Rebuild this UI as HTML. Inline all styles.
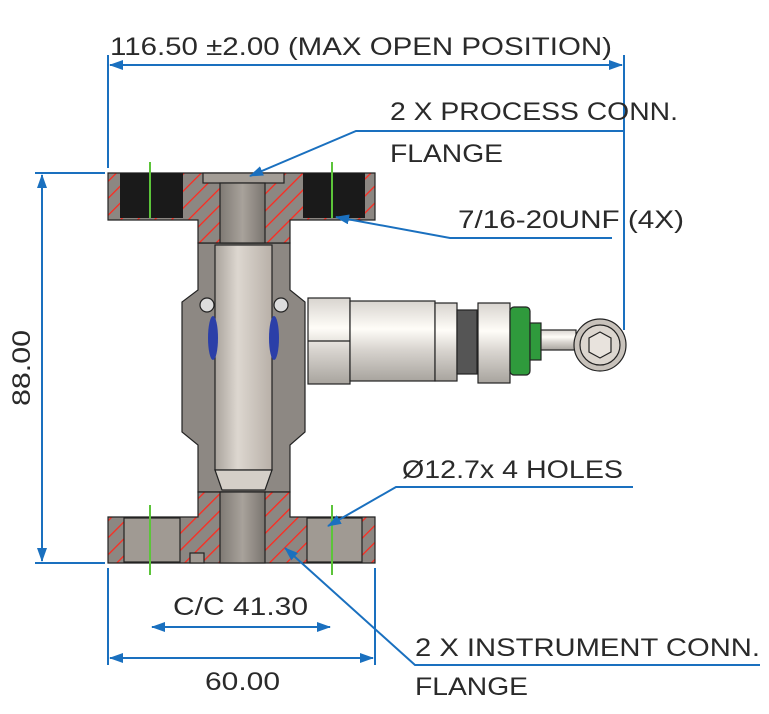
<!DOCTYPE html>
<html><head><style>
html,body{margin:0;padding:0;background:#fff;width:769px;height:714px;overflow:hidden}
text{font-family:"Liberation Sans",sans-serif;fill:#2a2a2a;font-size:25px}
</style></head><body>
<svg width="769" height="714" viewBox="0 0 769 714" xmlns="http://www.w3.org/2000/svg">
<defs>
<pattern id="h" width="12" height="12" patternUnits="userSpaceOnUse" patternTransform="rotate(45)">
<rect width="12" height="12" fill="#8c8782"/><line x1="0" y1="0" x2="0" y2="12" stroke="#ff2a1f" stroke-width="2.6"/>
</pattern>
<linearGradient id="cyl" x1="0" x2="0" y1="0" y2="1"><stop offset="0" stop-color="#d8d4cf"/><stop offset=".35" stop-color="#fffdf8"/><stop offset=".6" stop-color="#d9d5d0"/><stop offset="1" stop-color="#a8a49e"/></linearGradient>
<linearGradient id="stem" x1="0" x2="1"><stop offset="0" stop-color="#a9a39c"/><stop offset=".4" stop-color="#ddd7d0"/><stop offset="1" stop-color="#b8b0a8"/></linearGradient>
<linearGradient id="bore" x1="0" x2="1"><stop offset="0" stop-color="#7f7a74"/><stop offset=".5" stop-color="#a8a29b"/><stop offset="1" stop-color="#7a756f"/></linearGradient>
<marker id="a" markerWidth="14" markerHeight="10" refX="13" refY="5" orient="auto" markerUnits="userSpaceOnUse"><path d="M0,0 L14,5 L0,10 z" fill="#1a70bf"/></marker>
<marker id="s" markerWidth="14" markerHeight="10" refX="1" refY="5" orient="auto" markerUnits="userSpaceOnUse"><path d="M14,0 L0,5 L14,10 z" fill="#1a70bf"/></marker>
</defs>

<g stroke="#222" stroke-width="1.2">
<path d="M198,243 L290,243 L290,290 L305,302 L305,432 L290,445 L290,492 L198,492 L198,445 L182,432 L182,302 L198,290 Z" fill="#8d8883"/>
<path d="M108,173 L375,173 L375,220 L290,220 L290,243 L198,243 L198,220 L108,220 Z" fill="url(#h)"/>
<rect x="120" y="173" width="63" height="45" fill="#1a1a1a" stroke="none"/>
<rect x="303" y="173" width="62" height="45" fill="#1a1a1a" stroke="none"/>
<rect x="203" y="173" width="81" height="10" fill="#a39d96"/>
<path d="M198,492 L290,492 L290,517 L375,517 L375,563 L108,563 L108,517 L198,517 Z" fill="url(#h)"/>
<rect x="124" y="518" width="56" height="44" fill="#a09a93"/>
<rect x="307" y="518" width="55" height="44" fill="#a09a93"/>
<rect x="190" y="553" width="14" height="10" fill="#a09a93"/>
<rect x="220" y="183" width="45" height="60" fill="url(#bore)"/>
<rect x="220" y="492" width="45" height="71" fill="url(#bore)"/>
<rect x="215" y="245" width="57" height="225" fill="url(#stem)"/>
<path d="M215,470 L272,470 L265,490 L222,490 Z" fill="#d5cfc8"/>
<circle cx="207" cy="305" r="7" fill="#ddd"/><circle cx="281" cy="305" r="7" fill="#ddd"/>
</g>
<ellipse cx="213" cy="338" rx="5" ry="22" fill="#2b3fa8"/>
<ellipse cx="274" cy="338" rx="5" ry="22" fill="#2b3fa8"/>
<g stroke="#5cc43a" stroke-width="2">
<line x1="150" y1="162" x2="150" y2="218"/><line x1="332" y1="162" x2="332" y2="218"/>
<line x1="150" y1="505" x2="150" y2="575"/><line x1="332" y1="505" x2="332" y2="575"/>
</g>
<g stroke="#222" stroke-width="1.2">
<rect x="308" y="298" width="42" height="86" fill="url(#cyl)"/>
<line x1="308" y1="341" x2="350" y2="341"/>
<rect x="350" y="301" width="85" height="80" fill="url(#cyl)"/>
<rect x="435" y="303" width="22" height="78" fill="url(#cyl)"/>
<rect x="457" y="310" width="20" height="64" fill="#555"/>
<rect x="478" y="303" width="32" height="80" fill="url(#cyl)"/>
<rect x="510" y="307" width="20" height="68" rx="4" fill="#2f9a3c"/>
<rect x="530" y="323" width="11" height="37" fill="#2f9a3c"/>
<rect x="541" y="330" width="35" height="20" fill="url(#cyl)"/>
<circle cx="600" cy="345" r="26" fill="#c8c2bb"/>
<circle cx="600" cy="345" r="20" fill="#dcd6cf"/>
<polygon points="600,332 611,338 611,352 600,358 589,352 589,338" fill="#e8e3dd"/>
</g>

<g stroke="#1a70bf" stroke-width="2" fill="none">
<line x1="108" y1="55" x2="108" y2="168"/>
<line x1="624" y1="55" x2="624" y2="330"/>
<line x1="110" y1="65" x2="622" y2="65" marker-start="url(#s)" marker-end="url(#a)"/>
<line x1="35" y1="173" x2="105" y2="173"/>
<line x1="35" y1="563" x2="105" y2="563"/>
<line x1="42" y1="175" x2="42" y2="561" marker-start="url(#s)" marker-end="url(#a)"/>
<line x1="108" y1="568" x2="108" y2="665"/>
<line x1="375" y1="568" x2="375" y2="665"/>
<line x1="110" y1="658" x2="373" y2="658" marker-start="url(#s)" marker-end="url(#a)"/>
<line x1="152" y1="627" x2="330" y2="627" marker-start="url(#s)" marker-end="url(#a)"/>
<polyline points="623,131 356,131 250,176" marker-end="url(#a)"/>
<polyline points="612,238 450,238 336,217" marker-end="url(#a)"/>
<polyline points="633,487 396,487 328,526" marker-end="url(#a)"/>
<polyline points="760,665 415,665 285,548" marker-end="url(#a)"/>
</g>

<text x="110" y="55" textLength="502" lengthAdjust="spacingAndGlyphs">116.50 ±2.00 (MAX OPEN POSITION)</text>
<text x="390" y="120" textLength="288" lengthAdjust="spacingAndGlyphs">2 X PROCESS CONN.</text>
<text x="390" y="162" textLength="113" lengthAdjust="spacingAndGlyphs">FLANGE</text>
<text x="458" y="228" textLength="226" lengthAdjust="spacingAndGlyphs">7/16-20UNF (4X)</text>
<text x="402" y="478" textLength="221" lengthAdjust="spacingAndGlyphs">Ø12.7x 4 HOLES</text>
<text x="173" y="615" textLength="135" lengthAdjust="spacingAndGlyphs">C/C 41.30</text>
<text x="415" y="656" textLength="345" lengthAdjust="spacingAndGlyphs">2 X INSTRUMENT CONN.</text>
<text x="205" y="690" textLength="75" lengthAdjust="spacingAndGlyphs">60.00</text>
<text x="415" y="695" textLength="113" lengthAdjust="spacingAndGlyphs">FLANGE</text>
<text transform="translate(30,406) rotate(-90)" textLength="76" lengthAdjust="spacingAndGlyphs">88.00</text>
</svg>
</body></html>
